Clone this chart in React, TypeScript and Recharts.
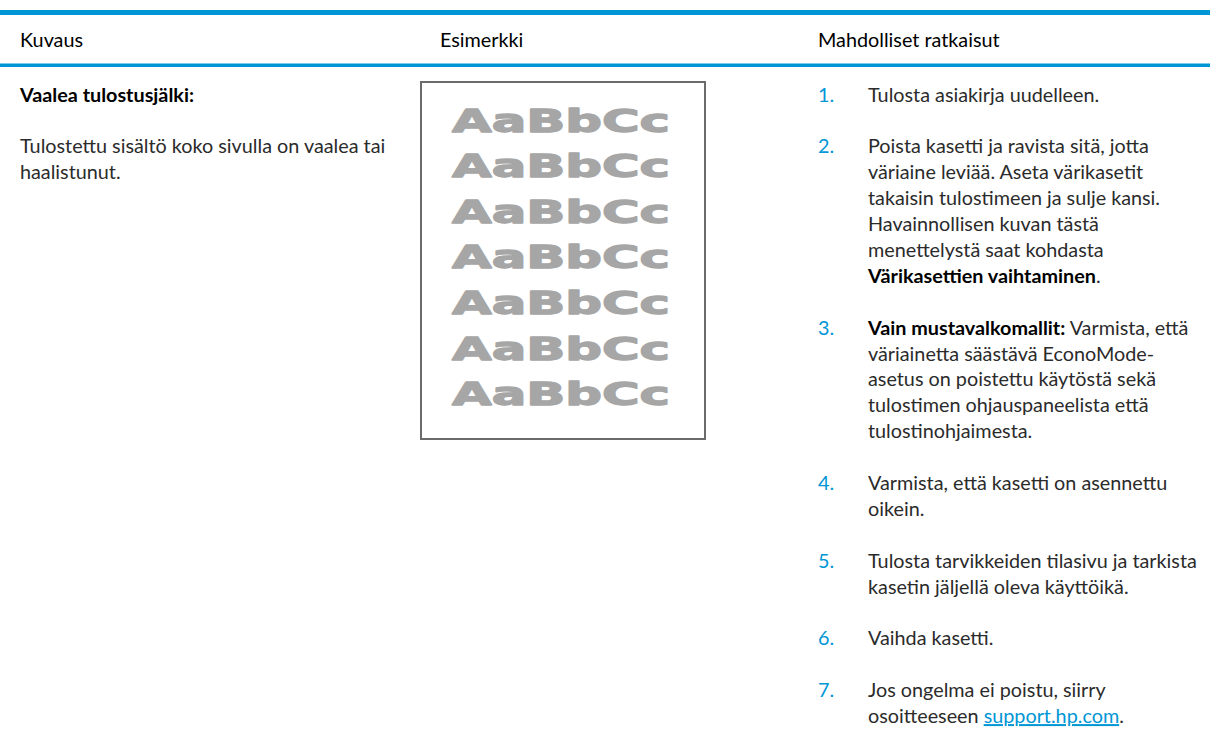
import React from "react";
import { Surface, Layer, Rectangle } from "recharts";

// ---- content ----
const headers = ["Kuvaus", "Esimerkki", "Mahdolliset ratkaisut"];
const descTitle = "Vaalea tulostusjälki:";
const descLines = ["Tulostettu sisältö koko sivulla on vaalea tai", "haalistunut."];
const sampleLines = ["AaBbCc", "AaBbCc", "AaBbCc", "AaBbCc", "AaBbCc", "AaBbCc", "AaBbCc"];
const itemNumbers = ["1.", "2.", "3.", "4.", "5.", "6.", "7."];

type Seg = { t: string; bold?: boolean; link?: boolean };
const item1: Seg[][] = [[{ t: "Tulosta asiakirja uudelleen." }]];
const item2: Seg[][] = [
  [{ t: "Poista kasetti ja ravista sitä, jotta" }],
  [{ t: "väriaine leviää. Aseta värikasetit" }],
  [{ t: "takaisin tulostimeen ja sulje kansi." }],
  [{ t: "Havainnollisen kuvan tästä" }],
  [{ t: "menettelystä saat kohdasta" }],
  [{ t: "Värikasettien vaihtaminen", bold: true }, { t: "." }],
];
const item3: Seg[][] = [
  [{ t: "Vain mustavalkomallit:", bold: true }, { t: " Varmista, että" }],
  [{ t: "väriainetta säästävä EconoMode-" }],
  [{ t: "asetus on poistettu käytöstä sekä" }],
  [{ t: "tulostimen ohjauspaneelista että" }],
  [{ t: "tulostinohjaimesta." }],
];
const item4: Seg[][] = [
  [{ t: "Varmista, että kasetti on asennettu" }],
  [{ t: "oikein." }],
];
const item5: Seg[][] = [
  [{ t: "Tulosta tarvikkeiden tilasivu ja tarkista" }],
  [{ t: "kasetin jäljellä oleva käyttöikä." }],
];
const item6: Seg[][] = [[{ t: "Vaihda kasetti." }]];
const item7: Seg[][] = [
  [{ t: "Jos ongelma ei poistu, siirry" }],
  [{ t: "osoitteeseen " }, { t: "support.hp.com", link: true }, { t: "." }],
];
const items = [item1, item2, item3, item4, item5, item6, item7];

// ---- style ----
const W = 1210;
const H = 737;
const BLUE = "#0096d6";
const TEXT = "#2b2b2b";
const FONT = "Lato, 'Open Sans', sans-serif";
const FS = 19.8;
const LH = 25.9;
const COL1 = 20;
const COL2 = 440;
const NUMX = 818;
const COL3 = 868;
const BODY_TOP = 101.5;

export default function App() {
  const rows: { y: number; segs: Seg[]; num?: string }[] = [];
  let y = BODY_TOP;
  items.forEach((lines, i) => {
    lines.forEach((segs, j) => {
      rows.push({ y, segs, num: j === 0 ? itemNumbers[i] : undefined });
      y += LH;
    });
    y += LH;
  });

  const sampleBase = 131.5;
  const sampleStep = 45.6;

  return (
    <div style={{ position: "absolute", left: 0, top: 0, width: W, height: H, background: "#fff" }}>
      <Surface width={W} height={H} viewBox={{ x: 0, y: 0, width: W, height: H }}>
        <Layer>
          <Rectangle x={0} y={10} width={W} height={5} fill={BLUE} />
          <Rectangle x={0} y={63.5} width={W} height={3.5} fill={BLUE} />
          {headers.map((h, i) => (
            <text key={h} x={[COL1, COL2, NUMX][i]} y={47} fontFamily={FONT} fontSize={FS} fill="#000">
              {h}
            </text>
          ))}
        </Layer>
        <Layer>
          <text x={COL1} y={BODY_TOP} fontFamily={FONT} fontSize={FS} fontWeight={700} fill="#000">
            {descTitle}
          </text>
          {descLines.map((l, i) => (
            <text key={i} x={COL1} y={BODY_TOP + (i + 2) * LH} fontFamily={FONT} fontSize={FS} fill={TEXT}>
              {l}
            </text>
          ))}
        </Layer>
        <Layer>
          <Rectangle x={421} y={82} width={284} height={357} fill="#fff" stroke="#6b6b6b" strokeWidth={2} />
          {sampleLines.map((s, i) => (
            <text
              key={i}
              x={452}
              y={sampleBase + i * sampleStep}
              fontFamily="'DejaVu Sans', sans-serif"
              fontWeight={700}
              fontSize={31.5}
              fill="#a6a6a6"
              stroke="#a6a6a6"
              strokeWidth={1.3}
              strokeLinejoin="round"
              textLength={218}
              lengthAdjust="spacingAndGlyphs"
            >
              {s}
            </text>
          ))}
        </Layer>
        <Layer>
          {rows.map((r, i) => (
            <g key={i}>
              {r.num && (
                <text x={NUMX} y={r.y} fontFamily={FONT} fontSize={FS} fill={BLUE}>
                  {r.num}
                </text>
              )}
              <text x={COL3} y={r.y} fontFamily={FONT} fontSize={FS} fill={TEXT}>
                {r.segs.map((s, k) => (
                  <tspan
                    key={k}
                    fontWeight={s.bold ? 700 : 400}
                    fill={s.link ? BLUE : s.bold ? "#000" : TEXT}
                    textDecoration={s.link ? "underline" : undefined}
                  >
                    {s.t}
                  </tspan>
                ))}
              </text>
            </g>
          ))}
        </Layer>
      </Surface>
    </div>
  );
}
